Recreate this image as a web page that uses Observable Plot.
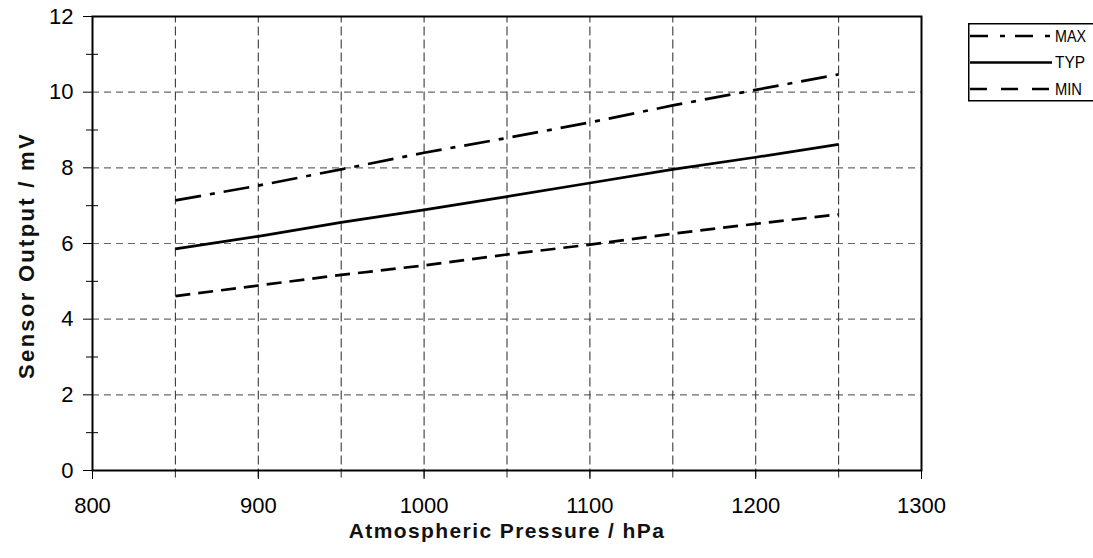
<!DOCTYPE html>
<html>
<head>
<meta charset="utf-8">
<script src="https://cdn.jsdelivr.net/npm/d3@7"></script>
<script src="https://cdn.jsdelivr.net/npm/@observablehq/plot@0.6"></script>
<style>
  html, body { margin: 0; padding: 0; background: #fff; }
  #wrap { position: relative; width: 1093px; height: 558px; overflow: hidden; }
  #legend { position: absolute; left: 968px; top: 23px; }
</style>
</head>
<body>
<div id="wrap"></div>
<script>
const pressure = [850, 900, 950, 1000, 1050, 1100, 1150, 1200, 1250];
const maxVals = [7.14, 7.53, 7.96, 8.40, 8.79, 9.20, 9.65, 10.06, 10.47];
const typVals = [5.86, 6.19, 6.56, 6.89, 7.24, 7.60, 7.96, 8.28, 8.62];
const minVals = [4.61, 4.89, 5.17, 5.42, 5.71, 5.97, 6.26, 6.52, 6.77];
const seriesNames = ["MAX", "TYP", "MIN"];
const xTicks = [800, 900, 1000, 1100, 1200, 1300];
const xGrid = [850, 900, 950, 1000, 1050, 1100, 1150, 1200, 1250];
const yTicks = [0, 2, 4, 6, 8, 10, 12];
const yMinor = [1, 3, 5, 7, 9, 11];
const yGrid = [2, 4, 6, 8, 10];

const dashes = {MAX: "26,9,5,9", TYP: null, MIN: "15,8"};
const valuesBySeries = {MAX: maxVals, TYP: typVals, MIN: minVals};

const data = seriesNames.flatMap(s => pressure.map((p, i) => ({p, v: valuesBySeries[s][i], s})));

const font = "'Liberation Sans', Arial, sans-serif";

const chart = Plot.plot({
  width: 1093,
  height: 558,
  marginLeft: 92,
  marginRight: 172,
  marginTop: 16,
  marginBottom: 88,
  x: {domain: [800, 1300]},
  y: {domain: [0, 12]},
  style: {fontFamily: font, fontSize: "22px", color: "#000", background: "#fff", overflow: "visible"},
  marks: [
    Plot.ruleY(yGrid, {stroke: "#6a6a6a", strokeDasharray: "7,5", strokeWidth: 1.1}),
    Plot.ruleX(xGrid, {y1: -0.2, y2: 12, stroke: "#3a3a3a", strokeDasharray: "9,4", strokeWidth: 1.1}),
    Plot.axisY({ticks: yTicks, tickSize: 9, tickPadding: 10, label: null, fontSize: 22, tickFormat: d => String(d)}),
    Plot.axisY({ticks: yMinor, tickSize: 12, dx: 6, tickFormat: () => "", label: null}),
    Plot.axisX({ticks: xTicks, tickSize: 9, tickPadding: 18, label: null, fontSize: 22, tickFormat: d => String(d)}),
    Plot.frame({stroke: "#000", strokeWidth: 2}),
    ...seriesNames.map(s => Plot.line(data.filter(d => d.s === s), {
      x: "p", y: "v", stroke: "#000", strokeWidth: 2.7,
      strokeDasharray: dashes[s], strokeLinecap: "butt"
    })),
    Plot.text(["Atmospheric Pressure / hPa"], {
      frameAnchor: "bottom", dy: 61, lineAnchor: "middle", textAnchor: "middle",
      fontSize: 21, fontWeight: "bold", fill: "#111"
    }),
    Plot.text(["Sensor Output / mV"], {
      frameAnchor: "left", rotate: -90, dx: -66, dy: 12, lineAnchor: "middle", textAnchor: "middle",
      fontSize: 22, fontWeight: "bold", fill: "#111"
    })
  ]
});

document.getElementById("wrap").appendChild(chart);

d3.select(chart).selectAll("text").filter(function() { return this.textContent === "Atmospheric Pressure / hPa"; })
  .style("letter-spacing", "1.4px");
d3.select(chart).selectAll("text").filter(function() { return this.textContent === "Sensor Output / mV"; })
  .style("letter-spacing", "2.3px");

// Legend
const lg = d3.select("#wrap").append("svg")
  .attr("id", "legend").attr("width", 125).attr("height", 80);
lg.append("rect").attr("x", 0.75).attr("y", 0.75).attr("width", 140).attr("height", 77)
  .attr("fill", "#fff").attr("stroke", "#000").attr("stroke-width", 1.5);
seriesNames.forEach((s, i) => {
  const cy = 13 + i * 26.5;
  lg.append("line").attr("x1", 2).attr("x2", 84).attr("y1", cy).attr("y2", cy)
    .attr("stroke", "#000").attr("stroke-width", 2.7)
    .attr("stroke-dasharray", s === "MAX" ? "18,12,5,10" : s === "MIN" ? "17,14" : null);
  lg.append("text").attr("x", 87).attr("y", cy).attr("dy", "0.36em")
    .attr("font-family", font).attr("font-size", 16)
    .attr("textLength", s === "MAX" ? 31 : s === "TYP" ? 30 : 27).attr("lengthAdjust", "spacingAndGlyphs")
    .text(s);
});
</script>
</body>
</html>
